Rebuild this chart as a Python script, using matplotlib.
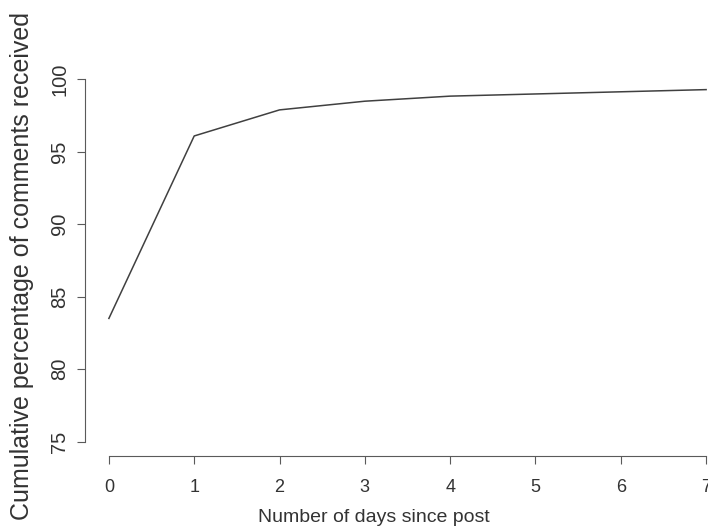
import matplotlib
matplotlib.use("Agg")
import matplotlib.pyplot as plt

days = [0, 1, 2, 3, 4, 5, 6, 7]
cum_pct = [83.5, 96.1, 97.9, 98.5, 98.85, 99.0, 99.15, 99.3]
x_ticks = [0, 1, 2, 3, 4, 5, 6, 7]
y_ticks = [75, 80, 85, 90, 95, 100]

plt.rcParams["font.family"] = ["Liberation Sans", "DejaVu Sans"]
text_col = "#333333"
axis_col = "#5a5a5a"

fig = plt.figure(figsize=(7.08, 5.31), dpi=100)
ax = fig.add_axes([85 / 708, 75 / 531, 645 / 708, 391 / 531])

ax.plot(days, cum_pct, color="#404040", linewidth=1.1)

ax.set_xlim(-0.28, 7.28)
ax.set_ylim(74, 101)

for side in ["top", "right"]:
    ax.spines[side].set_visible(False)
ax.spines["left"].set_bounds(75, 100)
ax.spines["bottom"].set_bounds(0, 7)
for side in ["left", "bottom"]:
    ax.spines[side].set_color(axis_col)
    ax.spines[side].set_linewidth(0.8)

ax.set_xticks(x_ticks)
ax.set_yticks(y_ticks)
ax.tick_params(axis="x", direction="out", length=5.5, width=0.8, color=axis_col,
               labelsize=13, labelcolor=text_col, pad=11)
ax.tick_params(axis="y", direction="out", length=5.5, width=0.8, color=axis_col,
               labelsize=14.5, labelcolor=text_col, pad=6)
for lab in ax.get_yticklabels():
    lab.set_rotation(90)
    lab.set_va("center")

fig.text(22 / 708, 0.5, "Cumulative percentage of comments received",
         rotation=90, ha="center", va="center", fontsize=18, color=text_col)
fig.text(374 / 708, 14 / 531, "Number of days since post",
         ha="center", va="center", fontsize=14, color=text_col)

fig.savefig("out.png", dpi=100)
